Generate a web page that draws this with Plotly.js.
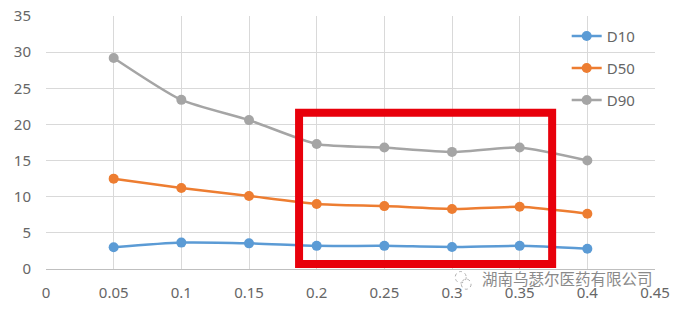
<!DOCTYPE html>
<html><head><meta charset="utf-8">
<script src="https://cdn.plot.ly/plotly-3.0.1.min.js"></script>
<style>html,body{margin:0;padding:0;background:#fff}#c{width:673px;height:310px}</style>
</head><body><div id="c"></div>
<script>
const xs = [0.05, 0.1, 0.15, 0.2, 0.25, 0.3, 0.35, 0.4];
const d10 = [3.0, 3.65, 3.55, 3.2, 3.2, 3.05, 3.2, 2.8];
const d50 = [12.5, 11.2, 10.1, 9.0, 8.7, 8.3, 8.6, 7.65];
const d90 = [29.2, 23.4, 20.6, 17.3, 16.8, 16.2, 16.8, 15.0];
const names = ['D10', 'D50', 'D90'];
const colors = ['#5B9BD5', '#ED7D31', '#A5A5A5'];
const highlight = {x0: 0.187, x1: 0.374, y0: 0.7, y1: 21.6};
const watermark = '湖南乌瑟尔医药有限公司';

const series = [d10, d50, d90];
const traces = series.map((ys, i) => ({
  x: xs, y: ys, name: names[i], type: 'scatter', mode: 'lines+markers',
  legendgroup: names[i],
  line: {color: colors[i], width: 2.5, shape: 'spline', smoothing: 0.6},
  marker: {color: colors[i], size: 10}
}));

const gray = '#666666';
const layout = {
  width: 673, height: 310,
  margin: {l: 46, r: 18, t: 16, b: 41},
  paper_bgcolor: '#fff', plot_bgcolor: '#fff',
  font: {family: 'Noto Sans, sans-serif', size: 15, color: gray},
  xaxis: {range: [0, 0.45], dtick: 0.05, tick0: 0, showgrid: true, gridcolor: '#d9d9d9',
          zeroline: false, showline: true, linecolor: '#bfbfbf', ticks: '', ticklen: 0,
          tickfont: {size: 15, color: gray}, ticklabelstandoff: 10},
  yaxis: {range: [0, 35], dtick: 5, showgrid: true, gridcolor: '#d9d9d9', zeroline: false,
          showline: false, ticks: '', tickfont: {size: 15, color: gray}, ticklabelstandoff: 14},
  legend: {x: 0.855, y: 0.985, xanchor: 'left', yanchor: 'top', bgcolor: 'rgba(0,0,0,0)',
           font: {size: 15, color: gray}, tracegroupgap: 9.5, traceorder: 'grouped'},
  showlegend: true,
  shapes: [
    {type: 'rect', xref: 'x', yref: 'y', x0: highlight.x0, x1: highlight.x1, y0: highlight.y0, y1: highlight.y1,
     line: {color: '#E8000B', width: 8}, fillcolor: 'rgba(0,0,0,0)', layer: 'above'},
    {type: 'circle', xref: 'paper', yref: 'paper', x0: 0.672, x1: 0.69, y0: -0.055, y1: -0.01,
     line: {color: '#b0b0b0', width: 1, dash: 'dot'}},
    {type: 'circle', xref: 'paper', yref: 'paper', x0: 0.682, x1: 0.698, y0: -0.08, y1: -0.04,
     line: {color: '#b0b0b0', width: 1, dash: 'dot'}}
  ],
  annotations: [
    {xref: 'paper', yref: 'paper', x: 1.0, y: -0.035, xanchor: 'right', yanchor: 'middle',
     text: watermark, showarrow: false,
     font: {family: 'Noto Sans CJK SC', size: 15.5, color: '#8a8a8a', shadow: '1px 1px 1px #fff'}}
  ]
};
Plotly.newPlot('c', traces, layout, {displayModeBar: false, staticPlot: true});
</script></body></html>
